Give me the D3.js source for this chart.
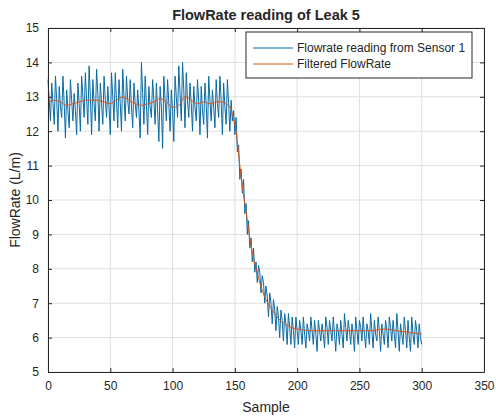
<!DOCTYPE html>
<html>
<head>
<meta charset="utf-8">
<script src="https://cdn.jsdelivr.net/npm/d3@7"></script>
<style>
  body { margin: 0; background: #fff; }
  text { font-family: "Liberation Sans", Arial, sans-serif; fill: #262626; }
</style>
</head>
<body>
<svg id="chart" width="496" height="420"></svg>
<script>
// raw sensor reading, one value per sample (0..300)
var sensorValues = [
    // steady flow, samples 0-146
    13.5, 12.9, 12.3, 13.4, 12.8, 12.2, 13.6, 12.9, 12.0, 13.3, 12.7, 12.4,
    13.6, 12.8, 11.8, 13.2, 12.6, 12.1, 13.5, 12.9, 12.3, 13.1, 12.6, 11.9,
    13.4, 12.8, 12.0, 13.6, 13.0, 12.4, 13.7, 12.9, 12.2, 13.9, 13.0, 11.9,
    13.5, 12.8, 12.3, 13.8, 13.1, 12.0, 13.4, 12.8, 12.2, 13.6, 12.9, 12.4,
    13.3, 12.7, 11.9, 13.7, 13.0, 12.3, 13.7, 12.9, 12.1, 13.5, 12.8, 12.0,
    13.8, 13.0, 12.3, 13.6, 12.9, 12.5, 13.5, 12.7, 12.1, 13.4, 12.8, 12.4,
    13.2, 12.6, 11.8, 14.0, 13.1, 12.2, 13.6, 12.8, 11.9, 13.3, 12.7, 12.4,
    13.5, 12.9, 12.2, 13.4, 12.6, 11.7, 13.3, 12.7, 11.5, 13.6, 12.9, 12.3,
    13.5, 12.8, 12.0, 13.2, 12.6, 11.7, 13.6, 13.0, 12.4, 13.9, 13.1, 12.3,
    14.0, 13.2, 12.1, 13.7, 12.9, 12.4, 13.4, 12.8, 12.0, 13.3, 12.7, 12.3,
    13.5, 12.9, 11.9, 13.3, 12.6, 12.2, 13.4, 12.8, 11.8, 13.6, 12.9, 12.3,
    13.2, 12.7, 12.1, 13.5, 12.8, 12.4, 13.6, 12.9, 11.9, 13.4, 12.7, 12.2,
    13.5, 12.8, 12.0,
    // leak, samples 147-200
    12.9, 12.3, 12.6, 11.9, 12.4, 11.4, 11.6, 10.6, 10.9, 10.2, 10.6, 9.6,
    9.9, 9.0, 9.4, 8.6, 8.9, 8.2, 8.6, 7.9, 8.2, 7.6, 8.1, 7.9,
    7.3, 7.8, 7.6, 7.0, 7.5, 7.2, 6.6, 7.3, 7.0, 6.4, 7.1, 6.8,
    6.2, 6.9, 6.6, 6.0, 6.8, 6.5, 5.9, 6.7, 6.4, 5.8, 6.7, 6.3,
    5.8, 6.6, 6.2, 5.7, 6.6, 6.2,
    // after leak, samples 201-300
    5.8,
    6.5, 6.2, 5.8, 6.6, 6.1, 5.7, 6.4, 6.2, 5.9, 6.6, 6.2, 5.8,
    6.5, 6.1, 5.6, 6.5, 6.2, 5.9, 6.4, 6.1, 5.7, 6.6, 6.3, 5.8,
    6.5, 6.2, 5.9, 6.6, 6.1, 5.6, 6.4, 6.2, 5.8, 6.5, 6.1, 5.7,
    6.7, 6.3, 5.9, 6.5, 6.2, 5.8, 6.4, 6.1, 5.6, 6.6, 6.2, 5.8,
    6.5, 6.3, 5.9, 6.6, 6.1, 5.7, 6.4, 6.2, 5.8, 6.7, 6.2, 5.7,
    6.5, 6.1, 5.9, 6.6, 6.2, 5.6, 6.4, 6.1, 5.8, 6.5, 6.2, 5.7,
    6.6, 6.3, 5.9, 6.5, 6.1, 5.7, 6.7, 6.2, 5.6, 6.4, 6.1, 5.8,
    6.6, 6.2, 5.7, 6.5, 6.0, 5.6, 6.6, 6.1, 5.8, 6.5, 6.2, 5.7,
    6.4, 6.0, 5.8
];

// filtered curve, read at selected samples
var filteredSamples = [0, 5, 10, 15, 20, 25, 30, 35, 40, 45, 50, 55, 60, 65, 70, 75, 80, 85, 90, 95,
    100, 105, 110, 115, 120, 125, 130, 135, 140, 145, 148, 150, 152, 154, 156, 158, 160, 162, 165,
    168, 170, 175, 180, 185, 190, 195, 200, 210, 220, 230, 240, 250, 260, 270, 280, 290, 300];
var filteredValues = [12.85, 12.9, 12.85, 12.75, 12.8, 12.85, 12.9, 12.9, 12.9, 12.85, 12.8, 12.9, 13.0, 12.9,
    12.8, 12.75, 12.8, 12.85, 12.95, 12.85, 12.7, 12.75, 13.0, 12.9, 12.8, 12.85, 12.8, 12.85, 12.85,
    12.75, 12.5, 12.2, 11.7, 11.0, 10.4, 9.9, 9.4, 8.9, 8.3, 7.9, 7.6, 7.1, 6.8, 6.55, 6.4, 6.3,
    6.25, 6.2, 6.2, 6.2, 6.2, 6.2, 6.2, 6.25, 6.2, 6.15, 6.1];

var xTicks = [0, 50, 100, 150, 200, 250, 300, 350];
var yTicks = [5, 6, 7, 8, 9, 10, 11, 12, 13, 14, 15];
var legendLabels = ["Flowrate reading from Sensor 1", "Filtered FlowRate"];
var seriesColors = ["#0a6aa3", "#D95319"];

var svg = d3.select("#chart");
var margin = {left: 48, top: 28, right: 12, bottom: 48};
var width = 496 - margin.left - margin.right,
    height = 420 - margin.top - margin.bottom;

var x = d3.scaleLinear().domain([0, 350]).range([0, width]);
var y = d3.scaleLinear().domain([5, 15]).range([height, 0]);

var g = svg.append("g").attr("transform", "translate(" + margin.left + "," + margin.top + ")");

// grid
g.append("g").selectAll("line").data(xTicks).enter().append("line")
    .attr("x1", d => x(d)).attr("x2", d => x(d))
    .attr("y1", 0).attr("y2", height)
    .attr("stroke", "#dfdfdf").attr("stroke-width", 1);
g.append("g").selectAll("line").data(yTicks).enter().append("line")
    .attr("y1", d => y(d)).attr("y2", d => y(d))
    .attr("x1", 0).attr("x2", width)
    .attr("stroke", "#dfdfdf").attr("stroke-width", 1);

// data lines
var sensorLine = d3.line()
    .x((d, i) => x(i))
    .y(d => y(d));
g.append("path")
    .datum(sensorValues)
    .attr("d", sensorLine)
    .attr("fill", "none")
    .attr("stroke", seriesColors[0])
    .attr("stroke-width", 1);

var filteredLine = d3.line()
    .curve(d3.curveCatmullRom)
    .x((d, i) => x(filteredSamples[i]))
    .y(d => y(d));
g.append("path")
    .datum(filteredValues)
    .attr("d", filteredLine)
    .attr("fill", "none")
    .attr("stroke", seriesColors[1])
    .attr("stroke-width", 1);

// axes, ticks inward like matlab
var xAxis = g.append("g").attr("transform", "translate(0," + height + ")")
    .call(d3.axisBottom(x).tickValues(xTicks).tickSizeInner(-4).tickSizeOuter(0).tickPadding(9));
var yAxis = g.append("g")
    .call(d3.axisLeft(y).tickValues(yTicks).tickSizeInner(-4).tickSizeOuter(0).tickPadding(9));
g.append("g")
    .call(d3.axisTop(x).tickValues(xTicks).tickSizeInner(-4).tickSizeOuter(0).tickFormat(""));
g.append("g").attr("transform", "translate(" + width + ",0)")
    .call(d3.axisRight(y).tickValues(yTicks).tickSizeInner(-4).tickSizeOuter(0).tickFormat(""));

g.selectAll(".domain").attr("stroke", "#262626");
g.selectAll(".tick line").attr("stroke", "#262626");
g.selectAll(".tick text")
    .style("font-family", "'Liberation Sans', Arial, sans-serif")
    .style("font-size", "12px")
    .attr("fill", "#262626");

// titles
svg.append("text")
    .attr("x", margin.left + width / 2).attr("y", 20)
    .attr("text-anchor", "middle")
    .style("font-size", "14.5px").style("font-weight", "bold")
    .text("FlowRate reading of Leak 5");
svg.append("text")
    .attr("x", margin.left + width / 2).attr("y", 412)
    .attr("text-anchor", "middle")
    .style("font-size", "14px")
    .text("Sample");
svg.append("text")
    .attr("transform", "translate(20," + (margin.top + height / 2) + ") rotate(-90)")
    .attr("text-anchor", "middle")
    .style("font-size", "14px")
    .text("FlowRate (L/m)");

// legend
var legend = svg.append("g").attr("transform", "translate(246,32)");
legend.append("rect")
    .attr("width", 226).attr("height", 46)
    .attr("fill", "#fff").attr("stroke", "#262626").attr("stroke-width", 1);
legendLabels.forEach(function (label, i) {
    var row = legend.append("g").attr("transform", "translate(0," + (16 + i * 16) + ")");
    row.append("line")
        .attr("x1", 7).attr("x2", 47)
        .attr("stroke", seriesColors[i]).attr("stroke-width", 1);
    row.append("text")
        .attr("x", 51).attr("y", 4)
        .style("font-size", "12px")
        .text(label);
});
</script>
</body>
</html>
